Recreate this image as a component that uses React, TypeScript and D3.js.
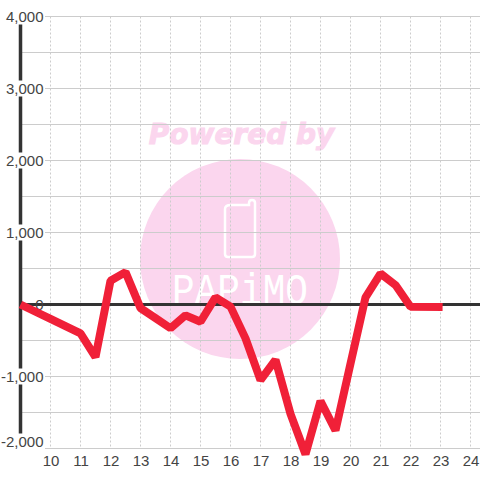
import React from "react";
import * as d3 from "d3";

const xValues = [9, 10, 11, 11.5, 12, 12.5, 13, 13.5, 14, 14.5, 15, 15.5, 16, 16.5, 17, 17.5, 18, 18.5, 19, 19.5, 20, 20.5, 21, 21.5, 22, 23.07];
const yValues = [0, -200, -400, -730, 330, 450, -50, -190, -330, -150, -240, 100, -30, -470, -1050, -770, -1520, -2080, -1340, -1750, -820, 100, 430, 270, -30, -35];
const xTicks = [10, 11, 12, 13, 14, 15, 16, 17, 18, 19, 20, 21, 22, 23, 24];
const yTicks = [4000, 3000, 2000, 1000, 0, -1000, -2000];
const yMinor = [3500, 2500, 1500, 500, -500, -1500];

const x = d3.scaleLinear().domain([10, 24]).range([50.5, 470.5]);
const y = d3.scaleLinear().domain([0, 4000]).range([304.5, 16.5]);
const line = d3.line<number>().x((_, i) => x(xValues[i])).y((d) => y(d));
const fmt = d3.format(",");

export default function App() {
  return (
    <svg width={480} height={480} style={{ position: "absolute", left: 0, top: 0, background: "#fff" }}>
      {/* watermark */}
      <circle cx={240} cy={259} r={100} fill="#fbd6ee" />
      <text x={241.5} y={144} textAnchor="middle" fontFamily="DejaVu Sans" fontWeight="bold" fontStyle="italic" fontSize={28} fill="#fbd6ee" stroke="#fbd6ee" strokeWidth={1}>Powered by</text>
      <path d="M231 205 H249 V203 Q249 200 252 200 Q255 200 255 203 V254 Q255 257 252 257 H228 Q225 257 225 254 V209 Q225 205 231 205 Z" fill="none" stroke="#fff" strokeWidth={2.5} />
      <text x={172} y={304} textLength={136} lengthAdjust="spacingAndGlyphs" fontFamily="Liberation Mono" fontSize={45} fill="#fff">PAPiMO</text>
      {/* grid */}
      {yMinor.map((t) => (
        <line key={t} x1={21} x2={480} y1={y(t)} y2={y(t)} stroke="#ccc" />
      ))}
      {yTicks.filter((t) => t !== 0).map((t) => (
        <line key={t} x1={45} x2={480} y1={y(t)} y2={y(t)} stroke="#ccc" />
      ))}
      {xTicks.map((t) => (
        <line key={t} x1={x(t)} x2={x(t)} y1={y(4000)} y2={y(-2000)} stroke="#ccc" strokeDasharray="2 2" />
      ))}
      {/* axes */}
      <line x1={20.5} x2={20.5} y1={y(4000)} y2={y(-2000)} stroke="#333" strokeWidth={3.5} />
      <line x1={20} x2={480} y1={y(0)} y2={y(0)} stroke="#333" strokeWidth={3} />
      {/* labels */}
      {yTicks.map((t) => {
        const label = fmt(t).replace("\u2212", "-");
        const shift = t === -2000 ? -7 : 0;
        return (
          <g key={t}>
            {t !== 0 && <rect x={2} y={y(t) - 8 + shift} width={42} height={t === -2000 ? 24 : 16} fill="#fff" />}
            <text x={43.5} y={y(t) + 5.5 + shift} textAnchor="end" fontFamily="Liberation Sans" fontSize={15} fill="#444">{label}</text>
          </g>
        );
      })}
      {xTicks.map((t) => (
        <text key={t} x={x(t) + 0.5} y={466} textAnchor="middle" fontFamily="Liberation Sans" fontSize={15} fill="#444">{t}</text>
      ))}
      {/* series */}
      <path d={line(yValues) ?? ""} fill="none" stroke="#f02038" strokeWidth={8} strokeLinejoin="bevel" />
    </svg>
  );
}
